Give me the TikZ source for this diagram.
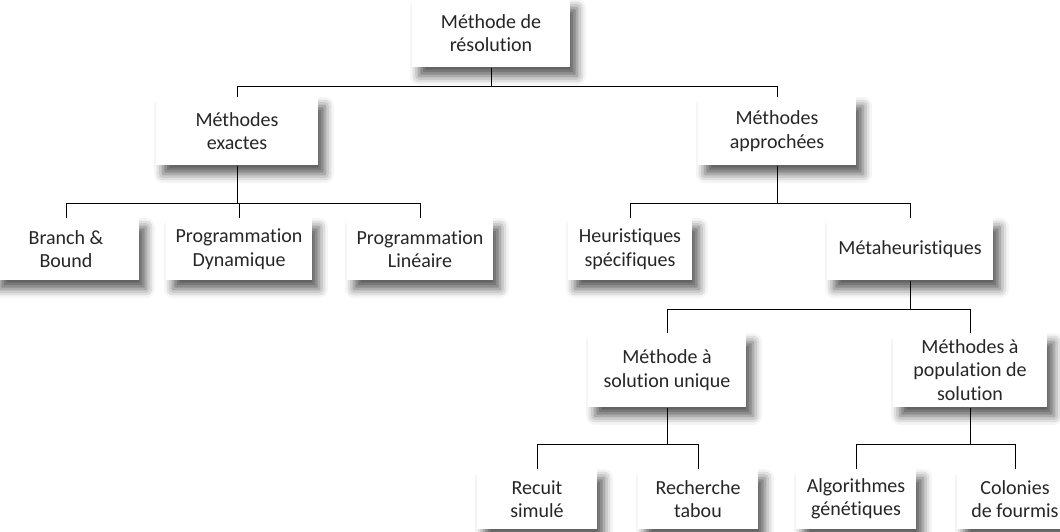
\documentclass[tikz,border=0pt]{standalone}
\usepackage{fontspec}
\setmainfont{Carlito}[Ligatures={NoCommon}]
\usepackage{tikz}
\usetikzlibrary{positioning,shadows.blur}
\definecolor{txtgray}{RGB}{38,38,38}

\begin{document}
\begin{tikzpicture}[x=1pt,y=-1pt,line width=1pt,node distance=30pt,
  box/.style={fill=white,align=center,inner sep=0pt,text=txtgray,
    font=\fontsize{20}{23.5}\selectfont,
    blur shadow={shadow xshift=7pt,shadow yshift=-9pt,shadow blur radius=9pt,shadow opacity=65}}]

\useasboundingbox (0,0) rectangle (1060,531);

\node[box, minimum width=158pt, minimum height=68pt] (R) at (491,33) {Méthode de\\résolution};

\node[box, minimum width=162pt, minimum height=68pt] (ME) at (237,131) {Méthodes\\exactes};
\node[box, minimum width=158pt, minimum height=68pt] (MA) at (777,131) {Méthodes\\approchées};

\node[box, minimum width=146pt, minimum height=62pt] (BB) at (66,249) {Branch \&\\Bound};
\node[box, minimum width=146pt, minimum height=62pt] (PD) [right=26pt of BB] {Programmation\\Dynamique};
\node[box, minimum width=146pt, minimum height=62pt] (PL) [right=34pt of PD] {Programmation\\Linéaire};

\node[box, minimum width=124pt, minimum height=62pt] (HS) at (630,249) {Heuristiques\\spécifiques};
\node[box, minimum width=166pt, minimum height=62pt] (MH) at (910,249) {Métaheuristiques};

\node[box, minimum width=158pt, minimum height=74pt] (SU) at (667,370) {Méthode à\\solution unique};
\node[box, minimum width=154pt, minimum height=74pt] (PS) at (970,370) {Méthodes à\\population de\\solution};

\node[box, minimum width=120pt, minimum height=60pt] (RS) at (537,499) {Recuit\\simulé};
\node[box, minimum width=120pt, minimum height=60pt] (RT) [right=40pt of RS] {Recherche\\tabou};
\node[box, minimum width=120pt, minimum height=60pt] (AG) at (856,499) {Algorithmes\\génétiques};
\node[box, minimum width=116pt, minimum height=60pt] (CF) [right=40pt of AG] {Colonies\\de fourmis};

\coordinate (B0) at (0,86);
\coordinate (B1) at (0,203);
\coordinate (B2) at (0,309);
\coordinate (B3) at (0,444);

\draw (R.south) -- (R.south |- B0);
\draw (ME.north) -- (ME.north |- B0) -- (MA.north |- B0) -- (MA.north);

\draw (ME.south) -- (ME.south |- B1);
\draw (BB.north) -- (BB.north |- B1) -- (PL.north |- B1) -- (PL.north);
\draw (PD.north |- B1) -- (PD.north);

\draw (MA.south) -- (MA.south |- B1);
\draw (HS.north) -- (HS.north |- B1) -- (MH.north |- B1) -- (MH.north);

\draw (MH.south) -- (MH.south |- B2);
\draw (SU.north) -- (SU.north |- B2) -- (PS.north |- B2) -- (PS.north);

\draw (SU.south) -- (SU.south |- B3);
\draw (RS.north) -- (RS.north |- B3) -- (RT.north |- B3) -- (RT.north);

\draw (PS.south) -- (PS.south |- B3);
\draw (AG.north) -- (AG.north |- B3) -- (CF.north |- B3) -- (CF.north);

\end{tikzpicture}
\end{document}
